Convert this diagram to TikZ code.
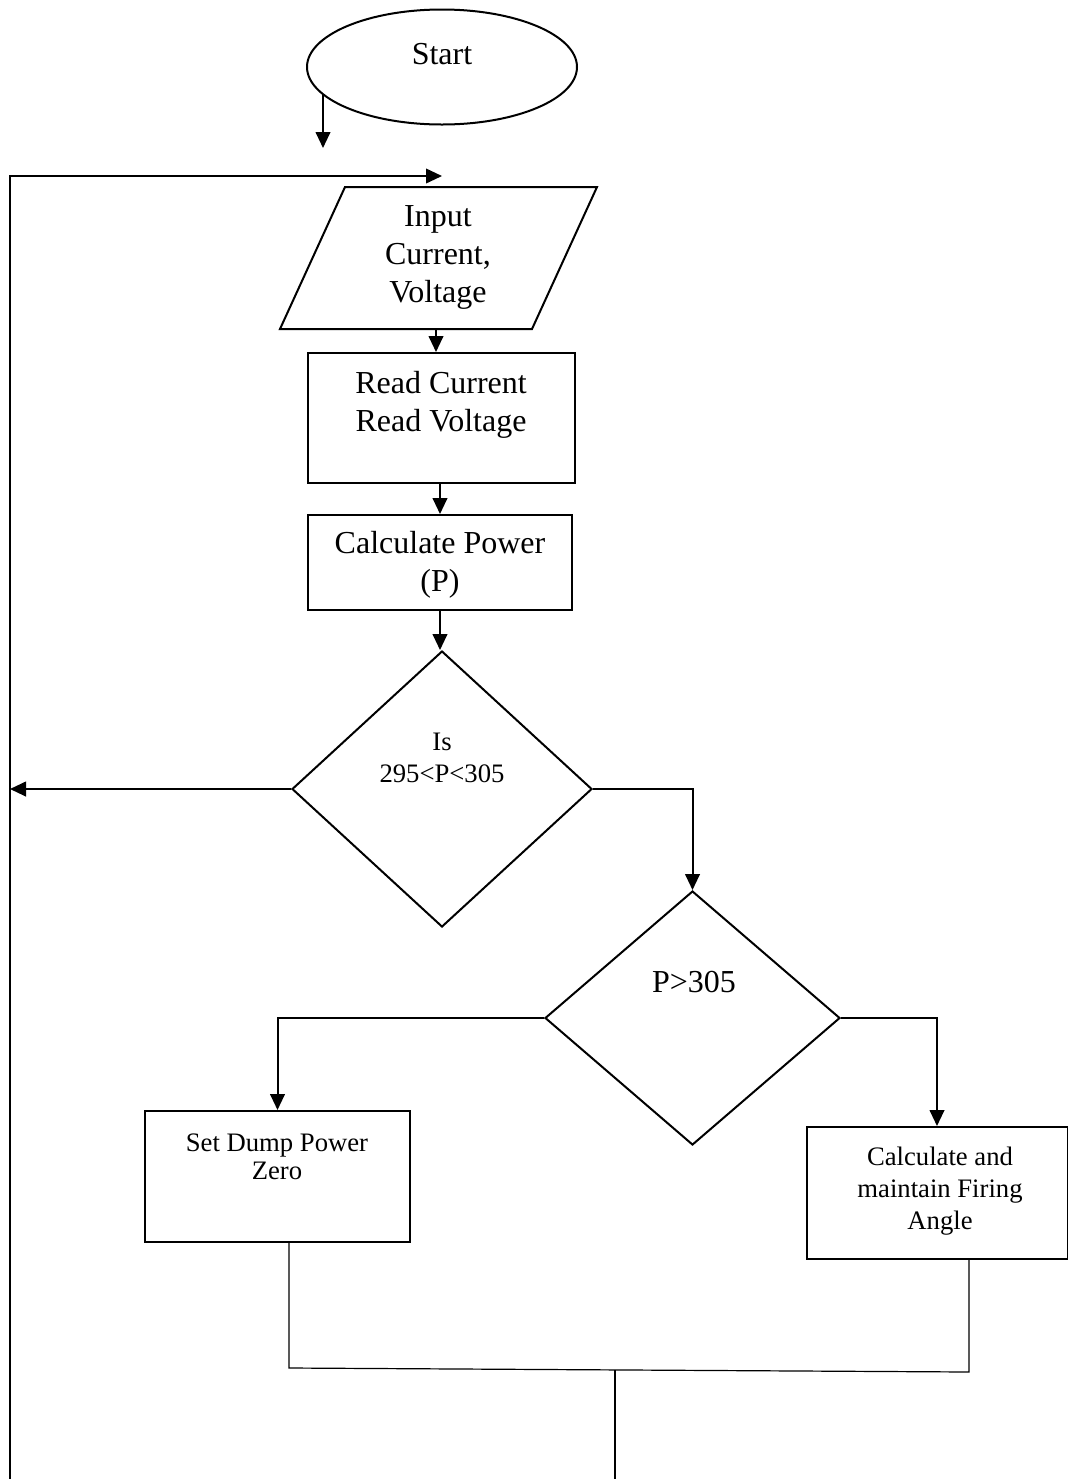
\documentclass[tikz,border=0pt]{standalone}
\usepackage{fontspec}
\setmainfont{Liberation Serif}
\usetikzlibrary{shapes.geometric,arrows.meta}
\begin{document}
\begin{tikzpicture}[x=0.75pt,y=-0.75pt,
  line width=1.5pt,
  arr/.style={-{Triangle[length=12pt,width=11pt]}},
  box/.style={draw,rectangle,inner sep=0pt,line width=1.5pt},
  dia/.style={draw,diamond,inner sep=0pt,line width=1.5pt},
  txt/.style={inner sep=0pt,align=center,font=\fontsize{24}{28.5}\selectfont},
  stxt/.style={inner sep=0pt,align=center,font=\fontsize{20}{24}\selectfont},
  thinline/.style={line width=0.9pt}]
\useasboundingbox (0,0) rectangle (1068,1479);

% shapes
\node[draw,ellipse,inner sep=0pt,minimum width=202.5pt,minimum height=86.25pt] (start) at (442,67) {};
\node[txt] (starttxt) at (442,54) {Start};

\draw (345,187) -- (597,187) -- (532,329) -- (280,329) -- cycle;
\node[txt] (input) at (438,257) {Input\\Current,\\Voltage};
\coordinate (inBot) at (436,329);

\node[box,minimum width=200.25pt,minimum height=97.5pt] (rd) at (441.5,418) {};
\node[txt] (rdtxt) at (441,405) {Read Current\\Read Voltage};

\node[box,minimum width=198pt,minimum height=71.25pt] (cp) at (440,562.5) {};
\node[txt] (cptxt) at (440,565) {Calculate Power\\(P)};

\node[dia,minimum width=225pt,minimum height=207pt] (d1) at (442,789) {};
\node[stxt] (d1txt) at (442,758) {Is\\295<P<305};

\node[dia,minimum width=221.25pt,minimum height=190.5pt] (d2) at (692.5,1018) {};
\node[txt] (d2txt) at (694,982) {P>305};

\node[box,minimum width=198.75pt,minimum height=98.25pt] (r3) at (277.5,1176.5) {};
\node[inner sep=0pt,align=center,font=\fontsize{20}{21}\selectfont] (r3txt) at (277,1157) {Set Dump Power\\Zero};

\node[box,minimum width=195.75pt,minimum height=99pt] (r4) at (937,1193) {};
\node[stxt] (r4txt) at (940,1191) {Calculate and\\maintain Firing\\Angle};

% coordinates
\coordinate (sa) at (323,148);
\coordinate (bl) at (10,1479);
\coordinate (tl) at (10,176);
\coordinate (loopEnd) at (442,176);
\coordinate (j1) at (289,1368);
\coordinate (j2) at (969,1372);
\coordinate (m1) at (615,1370);
\coordinate (m2) at (615,1479);

% connectors
\draw[arr] (sa |- start.193) -- (sa);
\draw[arr,line width=1.3pt] (bl) -- (tl) -- (loopEnd);
\draw[arr] (inBot) -- (rd.north -| inBot);
\draw[arr] (cp.north |- rd.south) -- (cp.north);
\draw[arr] (cp.south) -- (cp.south |- d1.north);
\draw[arr] (d1.west) -- (d1.west -| bl);
\draw[arr] (d1.east) -| (d2.north);
\draw[arr] (d2.west) -| (r3.north);
\draw[arr] (d2.east) -| (r4.north);
\draw[thinline] (r3.south -| j1) -- (j1) -- (j2) -- (r4.south -| j2);
\draw[thinline] (m1) -- (m2);
\end{tikzpicture}
\end{document}
